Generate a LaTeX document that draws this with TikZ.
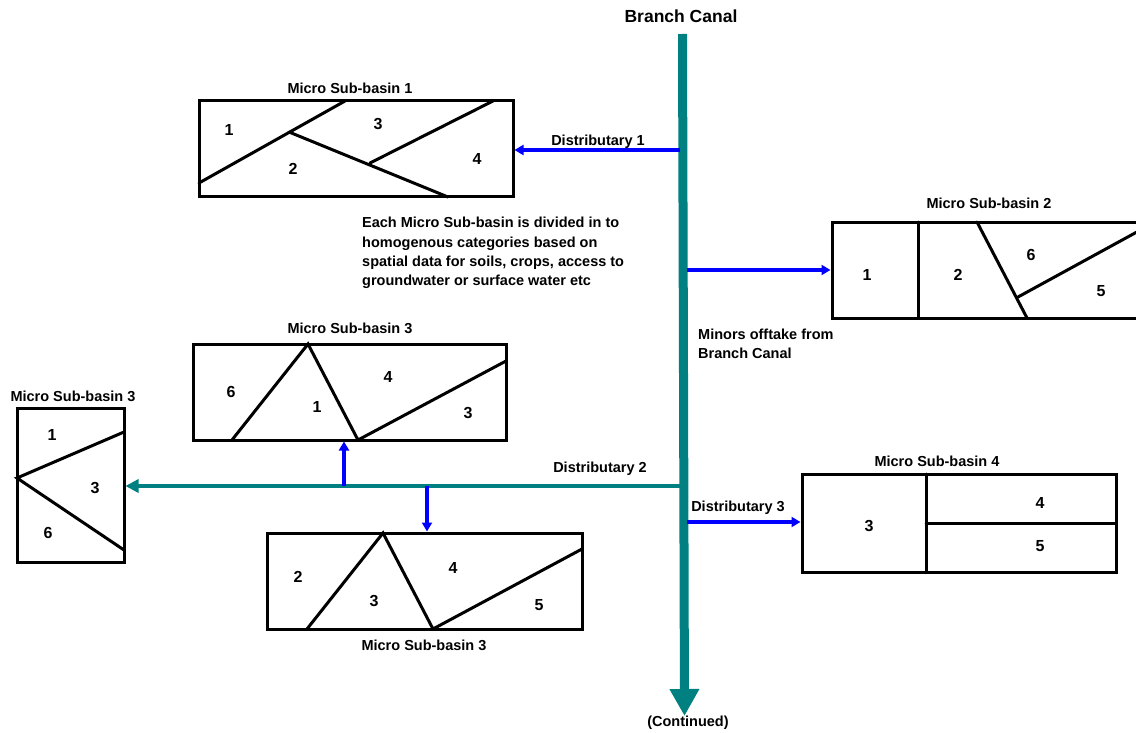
\documentclass[tikz,border=0pt]{standalone}
\usepackage{fontspec}
\setmainfont{Liberation Sans}
\usetikzlibrary{arrows.meta}
\definecolor{canalteal}{RGB}{0,128,128}
\definecolor{distblue}{RGB}{0,0,255}
\begin{document}
\begin{tikzpicture}[x=1pt,y=-1pt,
  basin/.style={draw,line width=3pt,rectangle,inner sep=0pt},
  part/.style={line width=3pt,line cap=round},
  lbl/.style={font=\fontsize{14.5}{17}\selectfont\bfseries,inner sep=0pt},
  num/.style={font=\fontsize{16}{18}\selectfont\bfseries,inner sep=0pt},
  minor/.style={draw=distblue,line width=3.2pt,-{Triangle[length=9pt,width=10pt]}},
  main/.style={draw=canalteal,line width=3.5pt,-{Triangle[length=13pt,width=13pt]}}]
\useasboundingbox (0,0) rectangle (1136,733);
\clip (0,0) rectangle (1136,733);

% canal
\coordinate (ctop) at (682.5,34);
\coordinate (cend) at (684.5,716);
\draw[canalteal,line width=9pt,-{Triangle[length=27pt,width=28pt]}] (ctop) -- (cend);
\node[lbl,font=\fontsize{17.5}{20}\selectfont\bfseries] (bc) at (681,16) {Branch Canal};
\node[lbl] (cont) at (688,723) {(Continued)};

% basins
\node[basin,minimum width=314pt,minimum height=96pt] (b1) at (356,149) {};
\node[basin,minimum width=314pt,minimum height=96pt] (b2) at (989,270) {};
\node[basin,minimum width=313pt,minimum height=96pt] (b3) at (349.5,392) {};
\node[basin,minimum width=107pt,minimum height=154pt] (bl) at (70.5,485) {};
\node[basin,minimum width=315pt,minimum height=96pt] (b5) at (424.5,581) {};
\node[basin,minimum width=314pt,minimum height=98pt] (b4) at (959,523) {};

% titles
\node[lbl] (t1) at (350,88) {Micro Sub-basin 1};
\node[lbl] (t2) at (989,203) {Micro Sub-basin 2};
\node[lbl] (t3) at (350,328) {Micro Sub-basin 3};
\node[lbl] (tl) at (73,396) {Micro Sub-basin 3};
\node[lbl] (t5) at (424,645) {Micro Sub-basin 3};
\node[lbl] (t4) at (937,461) {Micro Sub-basin 4};

% basin 1 interior
\draw[part] (199,183) -- (345,101);
\draw[part] (289,132) -- (448,197);
\draw[part] (370,163) -- (493,101);
\node[num] at (229,130) {1};
\node[num] at (378,124) {3};
\node[num] at (293,169) {2};
\node[num] at (477,159) {4};

% basin 2 interior
\draw[part] (918,222) -- (918,318);
\draw[part] (977,222) -- (1027,318);
\draw[part] (1018,297) -- (1146,227);
\node[num] at (867,275) {1};
\node[num] at (958,275) {2};
\node[num] at (1031,255) {6};
\node[num] at (1101,291) {5};

% basin 3 (upper) interior
\draw[part] (232,440) -- (308,344) -- (358,440) -- (506,361);
\node[num] at (231,392) {6};
\node[num] at (317,407) {1};
\node[num] at (388,377) {4};
\node[num] at (468,413) {3};

% left basin interior
\draw[part] (124,432) -- (17,478) -- (124,550);
\node[num] at (52,435) {1};
\node[num] at (95,488) {3};
\node[num] at (48,533) {6};

% lower basin interior
\draw[part] (307,629) -- (383,533) -- (433,629) -- (582,549);
\node[num] at (298,577) {2};
\node[num] at (374,601) {3};
\node[num] at (453,568) {4};
\node[num] at (539,605) {5};

% basin 4 interior
\draw[part] (926,474) -- (926,572);
\draw[part] (926,523) -- (1116,523);
\node[num] at (869,526) {3};
\node[num] at (1040,503) {4};
\node[num] at (1040,546) {5};

% distributaries
\coordinate (d1) at (680,150);
\coordinate (m2) at (687,270);
\coordinate (d2) at (680,486);
\coordinate (d3) at (687,522);
\coordinate (up) at (344,486);
\coordinate (dn) at (427,486);
\draw[minor] (d1) -- (b1.east |- d1);
\draw[minor] (m2) -- (b2.west |- m2);
\draw[minor] (d3) -- (b4.west |- d3);
\draw[main] (d2) -- (bl.east |- d2);
\draw[minor] (up) -- (up |- b3.south);
\draw[minor] (dn) -- (dn |- b5.north);

\node[lbl] (ld1) at (598,142) {Distributary 1};
\node[lbl] (ld2) at (600,469) {Distributary 2};
\node[lbl] (ld3) at (738,508) {Distributary 3};

\node[lbl,align=left,anchor=north west,font=\fontsize{14.5}{19}\selectfont\bfseries] (minors) at (698,329) {Minors offtake from\\Branch Canal};
\node[lbl,align=left,anchor=north west,font=\fontsize{14.5}{19.3}\selectfont\bfseries] (note) at (362,217) {Each Micro Sub-basin is divided in to\\homogenous categories based on\\spatial data for soils, crops, access to\\groundwater or surface water etc};
\end{tikzpicture}
\end{document}
